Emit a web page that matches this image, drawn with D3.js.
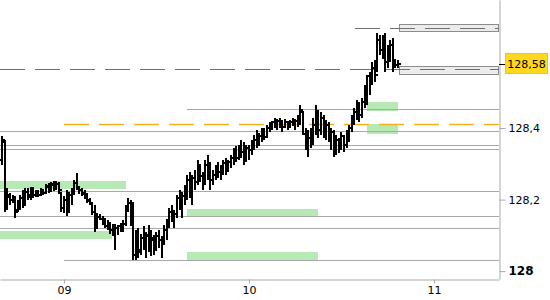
<!DOCTYPE html>
<html>
<head>
<meta charset="utf-8">
<script src="https://cdn.jsdelivr.net/npm/d3@7/dist/d3.min.js"></script>
<style>
body{margin:0;background:#fff;}
#canvas{width:550px;height:300px;}
text{font-family:"DejaVu Sans",sans-serif;font-size:11px;}
</style>
</head>
<body>
<div id="canvas"></div>
<script>
// 20 minute bars, first one on the 8th at 16:00 (UTC)
var barStart = "2020-06-08T16:00:00Z";
var barMinutes = 20;

var opens = [
128.311,128.361,128.176,128.207,128.199,128.204,128.171,128.185,128.204,128.190,
128.221,128.207,128.227,128.213,128.218,128.213,128.224,128.218,128.235,128.227,
128.241,128.232,128.244,128.218,128.176,128.199,128.171,128.213,128.227,128.246,
128.232,128.227,128.218,128.210,128.199,128.188,128.165,128.126,128.151,128.146,
128.137,128.126,128.132,128.115,128.126,128.120,128.126,128.118,128.132,128.176,
128.190,128.182,128.045,128.087,128.059,128.092,128.073,128.098,128.064,128.087,
128.064,128.098,128.087,128.087,128.115,128.143,128.165,128.148,128.160,128.204,
128.185,128.210,128.227,128.255,128.227,128.260,128.249,128.297,128.266,128.249,
128.297,128.277,128.255,128.269,128.288,128.277,128.288,128.302,128.283,128.305,
128.316,128.333,128.316,128.344,128.333,128.311,128.344,128.338,128.358,128.367,
128.353,128.378,128.386,128.375,128.400,128.409,128.417,128.406,128.420,128.411,
128.403,128.417,128.406,128.417,128.411,128.420,128.428,128.445,128.384,128.353,
128.372,128.361,128.409,128.445,128.395,128.428,128.389,128.409,128.372,128.389,
128.339,128.367,128.344,128.378,128.353,128.381,128.400,128.423,128.445,128.465,
128.437,128.473,128.507,128.546,128.535,128.568,128.563,128.647,128.619,128.647,
128.585,128.619,128.633,128.585,128.577];
var highs = [
128.378,128.367,128.232,128.218,128.213,128.210,128.199,128.213,128.227,128.232,
128.232,128.235,128.235,128.227,128.227,128.232,128.229,128.244,128.246,128.249,
128.252,128.252,128.249,128.221,128.210,128.227,128.221,128.232,128.255,128.274,
128.238,128.232,128.227,128.218,128.204,128.193,128.185,128.162,128.160,128.154,
128.148,128.143,128.137,128.132,128.132,128.129,128.134,128.143,128.185,128.204,
128.199,128.193,128.115,128.120,128.104,128.126,128.109,128.129,128.115,128.101,
128.109,128.115,128.098,128.129,128.143,128.176,128.185,128.171,128.213,128.227,
128.221,128.241,128.269,128.277,128.269,128.283,128.311,128.300,128.277,128.311,
128.325,128.305,128.283,128.297,128.305,128.297,128.311,128.316,128.311,128.325,
128.344,128.350,128.352,128.367,128.361,128.352,128.352,128.367,128.381,128.395,
128.386,128.400,128.400,128.409,128.417,128.420,128.428,128.426,128.428,128.423,
128.426,128.420,128.423,128.428,128.426,128.437,128.465,128.448,128.400,128.395,
128.400,128.428,128.465,128.451,128.445,128.437,128.423,128.417,128.400,128.395,
128.381,128.372,128.389,128.381,128.395,128.409,128.437,128.456,128.479,128.473,
128.484,128.521,128.549,128.557,128.585,128.591,128.666,128.661,128.661,128.666,
128.633,128.647,128.652,128.594,128.591];
var lows = [
128.297,128.165,128.171,128.185,128.190,128.148,128.165,128.171,128.176,128.185,
128.199,128.199,128.204,128.207,128.207,128.210,128.213,128.216,128.218,128.221,
128.224,128.227,128.221,128.165,128.162,128.155,128.168,128.185,128.213,128.227,
128.216,128.210,128.202,128.190,128.185,128.157,128.109,128.120,128.143,128.129,
128.120,128.115,128.104,128.098,128.059,128.101,128.109,128.109,128.126,128.165,
128.126,128.031,128.031,128.036,128.045,128.059,128.036,128.053,128.042,128.045,
128.056,128.064,128.036,128.073,128.087,128.120,128.137,128.120,128.148,128.171,
128.148,128.185,128.199,128.204,128.185,128.227,128.241,128.249,128.227,128.241,
128.255,128.227,128.241,128.255,128.260,128.255,128.269,128.269,128.277,128.288,
128.297,128.305,128.311,128.316,128.297,128.305,128.311,128.325,128.338,128.344,
128.350,128.361,128.367,128.372,128.389,128.395,128.400,128.395,128.400,128.389,
128.400,128.395,128.400,128.406,128.395,128.403,128.409,128.381,128.339,128.319,
128.344,128.353,128.381,128.372,128.381,128.372,128.367,128.361,128.339,128.319,
128.325,128.331,128.339,128.333,128.344,128.361,128.389,128.409,128.423,128.417,
128.428,128.456,128.465,128.493,128.521,128.529,128.557,128.605,128.594,128.557,
128.568,128.585,128.557,128.568,128.568];
var closes = [
128.367,128.176,128.213,128.199,128.204,128.165,128.190,128.204,128.185,128.221,
128.213,128.227,128.213,128.221,128.213,128.227,128.218,128.238,128.227,128.244,
128.232,128.244,128.227,128.176,128.199,128.165,128.213,128.227,128.246,128.232,
128.227,128.216,128.207,128.196,128.188,128.165,128.120,128.151,128.146,128.137,
128.126,128.134,128.115,128.126,128.120,128.126,128.118,128.132,128.176,128.190,
128.137,128.045,128.087,128.053,128.092,128.073,128.101,128.064,128.092,128.059,
128.098,128.087,128.087,128.115,128.140,128.165,128.148,128.160,128.204,128.185,
128.210,128.227,128.255,128.227,128.260,128.249,128.297,128.266,128.249,128.297,
128.277,128.255,128.269,128.288,128.277,128.288,128.302,128.283,128.305,128.316,
128.333,128.316,128.344,128.333,128.311,128.344,128.338,128.358,128.367,128.353,
128.378,128.386,128.375,128.400,128.409,128.417,128.406,128.420,128.411,128.403,
128.417,128.406,128.417,128.411,128.420,128.428,128.451,128.384,128.353,128.372,
128.361,128.409,128.445,128.395,128.428,128.389,128.409,128.372,128.389,128.339,
128.367,128.344,128.378,128.353,128.381,128.400,128.423,128.445,128.465,128.437,
128.473,128.507,128.546,128.535,128.568,128.549,128.647,128.619,128.647,128.585,
128.619,128.633,128.585,128.577,128.580];

// horizontal support / resistance lines
var levelPrices = [128.453,128.392,128.352,128.341,128.224,128.154,128.120,128.031];
var levelFrom = ["2020-06-09T16:00Z","","","","","","","2020-06-09T00:00Z"];

// green zones
var zoneFrom = ["","","2020-06-09T16:00Z","2020-06-09T16:00Z","2020-06-10T15:20Z","2020-06-10T15:20Z"];
var zoneTo = ["2020-06-09T08:00Z","2020-06-09T06:15Z","2020-06-10T09:00Z","2020-06-10T09:00Z","2020-06-10T19:20Z","2020-06-10T19:20Z"];
var zoneLow = [128.229,128.090,128.154,128.031,128.448,128.383];
var zoneHigh = [128.252,128.112,128.173,128.053,128.473,128.411];

// orange dashed level
var orangePrice = 128.411;
var orangeFrom = "2020-06-09T00:00Z";

// grey dashed levels and their shaded boxes
var dashPrices = [128.681,128.564];
var dashFrom = ["2020-06-10T13:45Z",""];
var boxFrom = "2020-06-10T19:28Z";
var boxLow = [128.670,128.551];
var boxHigh = [128.691,128.573];

var yTicks = [128,128.2,128.4];
var dayTicks = ["2020-06-09T00:00Z","2020-06-10T00:00Z","2020-06-11T00:00Z"];
var lastPrice = 128.58;

var W = 550, H = 300;
var plotW = 499, plotH = 279;

var x = d3.scaleUtc()
	.domain([new Date("2020-06-08T15:42Z"), new Date("2020-06-11T08:26Z")])
	.range([0, plotW]);
var y = d3.scaleLinear().domain([127.978, 128.758]).range([plotH, 0]);

var fr = d3.formatLocale({decimal:",", thousands:".", grouping:[3], currency:["","€"]});
var fmt = fr.format(".2~f");

var px = function(v){ return Math.round(v) + 0.5; };
var dt = function(s){ return s === "" ? x.domain()[0] : new Date(s); };

var svg = d3.select("#canvas").append("svg")
	.attr("width", W).attr("height", H);

// green zones
zoneLow.forEach(function(lo, i){
	var x0 = Math.round(x(dt(zoneFrom[i])));
	var x1 = Math.round(x(new Date(zoneTo[i])));
	var y0 = Math.round(y(zoneHigh[i]));
	var y1 = Math.round(y(lo));
	svg.append("rect")
		.attr("x", x0).attr("y", y0)
		.attr("width", x1 - x0).attr("height", y1 - y0)
		.attr("fill", "#b6e9b4");
});

// grey levels
levelPrices.forEach(function(p, i){
	svg.append("line")
		.attr("x1", Math.round(x(dt(levelFrom[i])))).attr("x2", plotW)
		.attr("y1", px(y(p))).attr("y2", px(y(p)))
		.attr("stroke", "#a9a9a9").attr("stroke-width", 1);
});

// shaded boxes on the right
boxLow.forEach(function(lo, i){
	var x0 = Math.round(x(new Date(boxFrom)));
	var y0 = px(y(boxHigh[i]));
	var y1 = px(y(lo));
	svg.append("rect")
		.attr("x", x0 + 0.5).attr("y", y0)
		.attr("width", plotW - x0 - 1).attr("height", y1 - y0)
		.attr("fill", "#ececec").attr("stroke", "#8c8c8c");
});

// grey dashed
dashPrices.forEach(function(p, i){
	svg.append("line")
		.attr("x1", Math.round(x(dt(dashFrom[i])))).attr("x2", plotW)
		.attr("y1", px(y(p))).attr("y2", px(y(p)))
		.attr("stroke", "#707070").attr("stroke-width", 1)
		.attr("stroke-dasharray", "25,10");
});

// orange dashed
var oy = px(y(orangePrice));
svg.append("line")
	.attr("x1", Math.round(x(new Date(orangeFrom)))).attr("x2", plotW)
	.attr("y1", oy).attr("y2", oy)
	.attr("stroke", "#f7b21b").attr("stroke-width", 1.3)
	.attr("stroke-dasharray", "25,10");

// OHLC bars
var t0 = new Date(barStart).getTime();
var bars = svg.append("g").attr("fill", "#000");
opens.forEach(function(o, i){
	var cx = Math.round(x(new Date(t0 + i * barMinutes * 60000)));
	var yh = Math.round(y(highs[i]));
	var yl = Math.round(y(lows[i]));
	bars.append("rect")
		.attr("x", cx - 1).attr("y", yh)
		.attr("width", 2).attr("height", Math.max(1, yl - yh));
	bars.append("rect")
		.attr("x", cx - 3).attr("y", Math.round(y(o)) - 1)
		.attr("width", 2).attr("height", 2);
	bars.append("rect")
		.attr("x", cx + 1).attr("y", Math.round(y(closes[i])) - 1)
		.attr("width", 2).attr("height", 2);
});

// right axis
var yAxis = d3.axisRight(y)
	.tickValues(yTicks)
	.tickSize(6).tickSizeOuter(0).tickPadding(3)
	.tickFormat(function(d){ return fmt(d); });
var ga = svg.append("g").attr("transform", "translate(" + (plotW + 0.5) + ",0)").call(yAxis);
ga.select(".domain").attr("stroke", "#a9a9a9");
ga.selectAll(".tick line").attr("stroke", "#a9a9a9");
ga.selectAll(".tick text")
	.attr("fill", "#000")
	.style("font-weight", function(d){ return d % 1 === 0 ? "bold" : "normal"; })
	.style("font-size", function(d){ return d % 1 === 0 ? "12px" : "11px"; });

// bottom axis
var xAxis = d3.axisBottom(x)
	.tickValues(dayTicks.map(function(s){ return new Date(s); }))
	.tickSize(4).tickSizeOuter(0).tickPadding(3)
	.tickFormat(d3.utcFormat("%d"));
var gb = svg.append("g").attr("transform", "translate(0," + (plotH + 0.5) + ")").call(xAxis);
gb.select(".domain").attr("stroke", "#a9a9a9");
gb.selectAll(".tick line").attr("stroke", "#a9a9a9");
gb.selectAll(".tick text").attr("fill", "#000");

// last price label
var ly = Math.round(y(lastPrice));
svg.append("line")
	.attr("x1", plotW).attr("x2", plotW + 6)
	.attr("y1", ly + 0.5).attr("y2", ly + 0.5)
	.attr("stroke", "#000");
svg.append("rect")
	.attr("x", 505.5).attr("y", ly - 10.5)
	.attr("width", 42).attr("height", 20)
	.attr("fill", "#ffd71c").attr("stroke", "#e6c43a");
svg.append("text")
	.attr("x", 526.5).attr("y", ly + 4)
	.attr("text-anchor", "middle")
	.attr("fill", "#000")
	.text(fmt(lastPrice));
</script>
</body>
</html>
